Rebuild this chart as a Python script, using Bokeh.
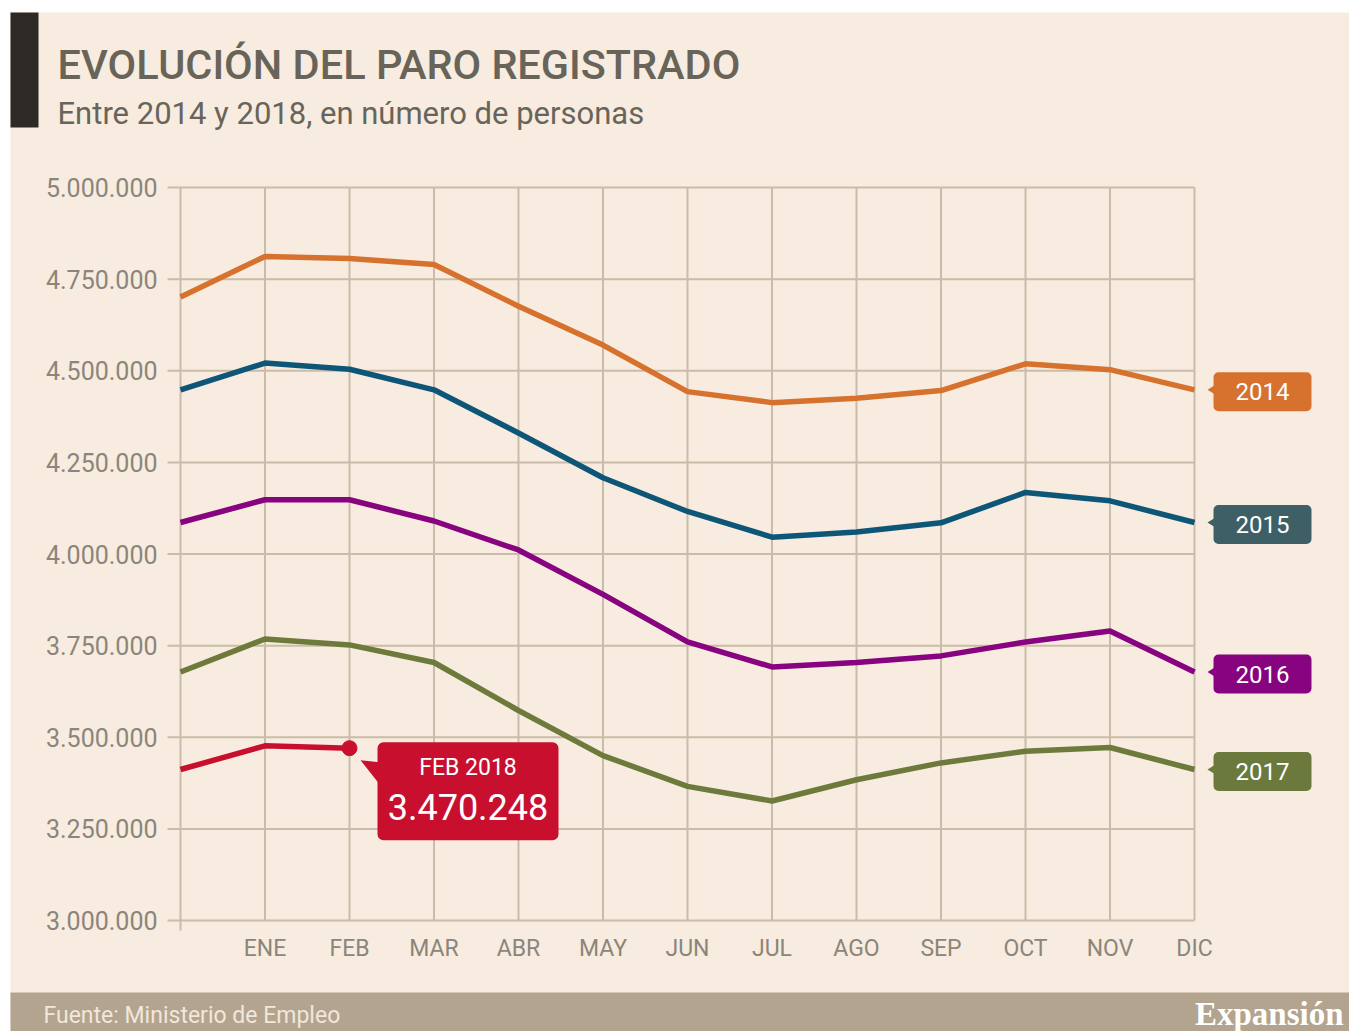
from bokeh.plotting import figure
from bokeh.models import Range1d, Label, BoxAnnotation, PolyAnnotation
from bokeh.core.properties import value
from bokeh.embed import file_html
from bokeh.resources import INLINE

# ---------------- data ----------------
months = ["", "ENE", "FEB", "MAR", "ABR", "MAY", "JUN", "JUL", "AGO", "SEP", "OCT", "NOV", "DIC"]
years = ["2014", "2015", "2016", "2017"]
y2014 = [4701000, 4812000, 4806000, 4790000, 4676000, 4570000, 4443000, 4413000, 4425000, 4446000, 4519000, 4503000, 4448000]
y2015 = [4448000, 4521000, 4504000, 4448000, 4330000, 4208000, 4116000, 4046000, 4060000, 4085000, 4168000, 4145000, 4086000]
y2016 = [4086000, 4148000, 4148000, 4090000, 4011000, 3890000, 3760000, 3692000, 3704000, 3722000, 3760000, 3790000, 3678000]
y2017 = [3678000, 3768000, 3752000, 3704000, 3573000, 3450000, 3366000, 3326000, 3384000, 3430000, 3462000, 3472000, 3412000]
y2018 = [3412000, 3476528, 3470248]
yticks = [3000000, 3250000, 3500000, 3750000, 4000000, 4250000, 4500000, 4750000, 5000000]
ytick_labels = ["3.000.000", "3.250.000", "3.500.000", "3.750.000", "4.000.000",
                "4.250.000", "4.500.000", "4.750.000", "5.000.000"]
callout_title = "FEB 2018"
callout_value = "3.470.248"

# ---------------- style ----------------
BG = "#f7ecdf"
GRID = "#cbbca9"
AXT = "#8b857b"
TITLE = "#69645a"
BAR = "#2d2925"
FOOT = "#b3a48f"
FOOTTXT = "#f1e7da"
line_colors = ["#d6722d", "#0e5677", "#87037f", "#6e7a3b"]
tag_colors = ["#d6722d", "#3e5f66", "#87037f", "#6b793c"]
RED = "#c8102e"
FONT = "Roboto"

W, H = 1349, 1031
# plot area placement on the canvas (px)
PX0, PX1 = 180, 1194      # x of first / last month
PY0, PY1 = 920, 187       # y of lowest / highest tick
nx = len(months) - 1
PXS = (PX1 - PX0) / nx                      # px per month
PYS = (PY0 - PY1) / (yticks[-1] - yticks[0])  # px per person


def sx(rx):
    return rx


def sy(ry):
    return H - ry


p = figure(width=W, height=H, output_backend="svg", toolbar_location=None,
           x_range=Range1d(-PX0 / PXS, (W - PX0) / PXS),
           y_range=Range1d(yticks[0] - (H - PY0) / PYS, yticks[0] + PY0 / PYS),
           min_border=0, x_axis_type=None, y_axis_type=None)
p.outline_line_color = None
p.background_fill_color = "white"
p.border_fill_color = "white"
p.xgrid.visible = False
p.ygrid.visible = False

ipx = 1 / PXS
vpx = 1 / PYS

# cream panel
p.add_layout(BoxAnnotation(left=sx(10), right=sx(1360), top=sy(12), bottom=sy(1040),
                           left_units="screen", right_units="screen", top_units="screen", bottom_units="screen",
                           fill_color=BG, fill_alpha=1, line_color=None, level="image"))

# grid + ticks
xs_idx = list(range(len(months)))
p.segment(x0=xs_idx, y0=[yticks[0] - (10 * vpx if i == 0 else 0) for i in xs_idx],
          x1=xs_idx, y1=[yticks[-1]] * len(xs_idx), line_color=GRID, line_width=2, level="underlay")
p.segment(x0=[-13 * ipx] * len(yticks), y0=yticks, x1=[nx] * len(yticks), y1=yticks,
          line_color=GRID, line_width=2, level="underlay")
p.text(x=[0] * len(yticks), y=yticks, text=ytick_labels, x_offset=-23, text_align="right",
       text_baseline="middle", text_color=AXT, text_font=value(FONT), text_font_size=value("25px"))
p.text(x=xs_idx, y=[yticks[0]] * len(xs_idx), text=months, y_offset=28, text_align="center",
       text_baseline="middle", text_color=AXT, text_font=value(FONT), text_font_size=value("23px"))

# lines + year tags
series = [y2014, y2015, y2016, y2017]
for vals, col, tcol, yr in zip(series, line_colors, tag_colors, years):
    p.line(x=list(range(len(vals))), y=vals, line_color=col, line_width=5.5, line_join="round")
    last_x, last_y = len(vals) - 1, vals[-1]
    p.add_layout(PolyAnnotation(xs=[last_x + 21 * ipx, last_x + 13 * ipx, last_x + 21 * ipx],
                                ys=[last_y + 5 * vpx, last_y, last_y - 5 * vpx],
                                fill_color=tcol, fill_alpha=1, line_color=None))
    p.add_layout(Label(x=last_x, y=last_y, x_offset=68, y_offset=-2, text=yr, text_align="center",
                       text_baseline="middle", text_color="white", text_font=FONT,
                       text_font_size="24px", background_fill_color=tcol, background_fill_alpha=1,
                       border_radius=5, padding=(22, 22, 11, 11)))

p.line(x=list(range(len(y2018))), y=y2018, line_color=RED, line_width=5.5, line_join="round")
fx, fy = len(y2018) - 1, y2018[-1]
p.scatter(x=[fx], y=[fy], size=15, color=RED)

# callout
p.add_layout(BoxAnnotation(left=fx + 28 * ipx, right=fx + 209 * ipx, top=fy + 6 * vpx, bottom=fy - 92 * vpx,
                           fill_color=RED, fill_alpha=1, line_color=None, border_radius=6))
p.add_layout(PolyAnnotation(xs=[fx + 30 * ipx, fx + 11 * ipx, fx + 30 * ipx],
                            ys=[fy - 14 * vpx, fy - 12 * vpx, fy - 36 * vpx],
                            fill_color=RED, fill_alpha=1, line_color=None))
p.add_layout(Label(x=fx, y=fy, x_offset=118.5, y_offset=-19, text=callout_title, text_align="center",
                   text_baseline="middle", text_color="white", text_font=FONT, text_font_size="23px"))
p.add_layout(Label(x=fx, y=fy, x_offset=118.5, y_offset=-59, text=callout_value, text_align="center",
                   text_baseline="middle", text_color="white", text_font=FONT, text_font_size="36px"))

# header
p.add_layout(BoxAnnotation(left=sx(10), right=sx(38), top=sy(12), bottom=sy(127),
                           left_units="screen", right_units="screen", top_units="screen", bottom_units="screen",
                           fill_color=BAR, fill_alpha=1, line_color=None))
p.add_layout(Label(x=sx(57), y=sy(64), x_units="screen", y_units="screen",
                   text="EVOLUCIÓN DEL PARO REGISTRADO", text_font="Roboto Medium", text_font_size="41.5px",
                   text_color=TITLE, text_baseline="alphabetic"))
p.add_layout(Label(x=sx(57), y=sy(113), x_units="screen", y_units="screen",
                   text="Entre 2014 y 2018, en número de personas", text_font=FONT, text_font_size="31px",
                   text_color=TITLE, text_baseline="alphabetic"))

# footer
p.add_layout(BoxAnnotation(left=sx(10), right=sx(1360), top=sy(992), bottom=sy(1040),
                           left_units="screen", right_units="screen", top_units="screen", bottom_units="screen",
                           fill_color=FOOT, fill_alpha=1, line_color=None))
p.add_layout(Label(x=sx(43), y=sy(1015), x_units="screen", y_units="screen",
                   text="Fuente: Ministerio de Empleo", text_font=FONT, text_font_size="23px",
                   text_color=FOOTTXT, text_baseline="middle"))
p.add_layout(Label(x=sx(1343), y=sy(1013), x_units="screen", y_units="screen",
                   text="Expansión", text_font="Liberation Serif", text_font_style="bold",
                   text_font_size="33px", text_color="white", text_align="right", text_baseline="middle"))

open("out.html", "w").write(file_html(p, INLINE))
